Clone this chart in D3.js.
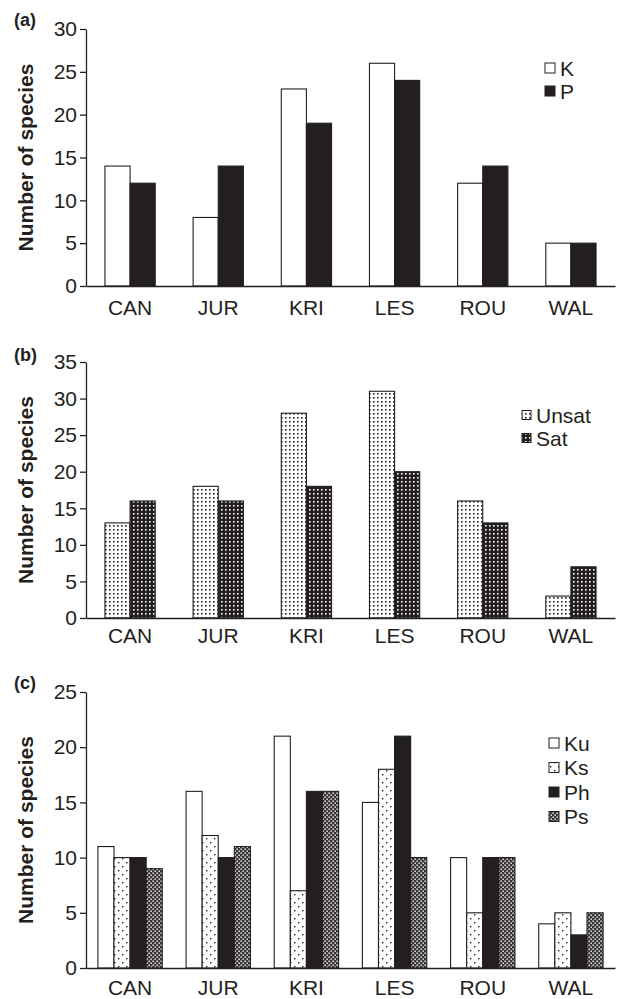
<!DOCTYPE html>
<html>
<head>
<meta charset="utf-8">
<script src="https://cdn.jsdelivr.net/npm/d3@7"></script>
<style>
  body { margin: 0; background: #fff; }
  svg text { font-family: "Liberation Sans", Arial, sans-serif; fill: #231f20; }
</style>
</head>
<body>
<div id="canvas"></div>
<script>
// sites along the x axis
var sites = ["CAN", "JUR", "KRI", "LES", "ROU", "WAL"];

// (a) K / P
var seriesA = ["K", "P"];
var valK = [14, 8, 23, 26, 12, 5];
var valP = [12, 14, 19, 24, 14, 5];

// (b) Unsat / Sat
var seriesB = ["Unsat", "Sat"];
var valUnsat = [13, 18, 28, 31, 16, 3];
var valSat = [16, 16, 18, 20, 13, 7];

// (c) Ku / Ks / Ph / Ps
var seriesC = ["Ku", "Ks", "Ph", "Ps"];
var valKu = [11, 16, 21, 15, 10, 4];
var valKs = [10, 12, 7, 18, 5, 5];
var valPh = [10, 10, 16, 21, 10, 3];
var valPs = [9, 11, 16, 10, 10, 5];

var ink = "#231f20";

var svg = d3.select("#canvas").append("svg")
  .attr("width", 617)
  .attr("height", 999);

// fill patterns
var defs = svg.append("defs");

function pat(id, w, h, bg, fg, dots, r) {
  var p = defs.append("pattern")
    .attr("id", id)
    .attr("patternUnits", "userSpaceOnUse")
    .attr("width", w).attr("height", h);
  p.append("rect").attr("width", w).attr("height", h).attr("fill", bg);
  dots.forEach(function(d) {
    p.append("rect")
      .attr("x", d[0]).attr("y", d[1])
      .attr("width", r).attr("height", r)
      .attr("fill", fg);
  });
}
pat("unsat", 4, 4, "#fff", ink, [[1, 1]], 1.6);
pat("sat", 4, 4, ink, "#fff", [[1, 1]], 1.6);
pat("ks", 8, 8, "#fff", ink, [[2, 2], [6, 6]], 1.4);
pat("ps", 4, 4, "#3a3637", "#fff", [[0.5, 0.5], [2.5, 2.5]], 1.4);

var fills = {
  K: "#fff", P: ink,
  Unsat: "url(#unsat)", Sat: "url(#sat)",
  Ku: "#fff", Ks: "url(#ks)", Ph: ink, Ps: "url(#ps)"
};

var x = d3.scaleBand().domain(sites).range([86, 615]);

function panel(cfg) {
  var y = d3.scaleLinear().domain([0, cfg.max]).range([cfg.y0, cfg.yTop]);
  var g = svg.append("g");

  var xs = d3.scaleBand().domain(cfg.keys)
    .range([0, x.step() * cfg.groupFrac]);
  var off = (x.step() - xs.range()[1]) / 2;

  // bars
  cfg.keys.forEach(function(k, i) {
    g.selectAll(".bar-" + k)
      .data(cfg.values[i])
      .enter().append("rect")
      .attr("x", function(d, j) { return x(sites[j]) + off + xs(k); })
      .attr("y", function(d) { return y(d); })
      .attr("width", xs.bandwidth())
      .attr("height", function(d) { return y(0) - y(d); })
      .attr("fill", fills[k])
      .attr("stroke", ink)
      .attr("stroke-width", 1.1);
  });

  // y axis
  var ya = g.append("g")
    .attr("transform", "translate(86,0)")
    .call(d3.axisLeft(y).ticks(cfg.max / 5).tickSize(6).tickSizeOuter(0).tickPadding(3));
  ya.selectAll("path, line").attr("stroke", ink).attr("stroke-width", 1.3);
  ya.selectAll("text").attr("font-size", 21).attr("fill", ink)
    .style("font-family", "Liberation Sans, Arial, sans-serif");

  // x axis
  var xa = g.append("g")
    .attr("transform", "translate(0," + cfg.y0 + ")")
    .call(d3.axisBottom(x).tickSize(0).tickSizeOuter(0).tickPadding(cfg.labelPad));
  xa.selectAll("path").attr("stroke", ink).attr("stroke-width", 1.6);
  xa.selectAll("text").attr("font-size", 21).attr("fill", ink)
    .style("font-family", "Liberation Sans, Arial, sans-serif");

  // y title
  g.append("text")
    .attr("transform", "translate(" + 33 + "," + ((cfg.y0 + cfg.yTop) / 2) + ") rotate(-90)")
    .attr("text-anchor", "middle")
    .attr("font-size", 21)
    .attr("font-weight", "bold")
    .text("Number of species");

  // panel letter
  g.append("text")
    .attr("x", 14)
    .attr("y", cfg.letterY)
    .attr("dy", "0.36em")
    .attr("font-size", 18)
    .attr("font-weight", "bold")
    .text(cfg.letter);

  // legend
  var lg = g.append("g");
  cfg.keys.forEach(function(k, i) {
    var ly = cfg.legY + i * cfg.legStep;
    lg.append("rect")
      .attr("x", cfg.legX).attr("y", ly - cfg.legBox / 2)
      .attr("width", cfg.legBox).attr("height", cfg.legBox)
      .attr("fill", fills[k])
      .attr("stroke", ink).attr("stroke-width", 1);
    lg.append("text")
      .attr("x", cfg.legX + cfg.legBox + 5)
      .attr("y", ly)
      .attr("dy", "0.36em")
      .attr("font-size", 21)
      .text(k);
  });
}

panel({ letter: "(a)", keys: seriesA, values: [valK, valP], max: 30,
  yTop: 29, y0: 286, groupFrac: 0.57, labelPad: 14, letterY: 20,
  legX: 545, legY: 68, legStep: 23, legBox: 10 });

panel({ letter: "(b)", keys: seriesB, values: [valUnsat, valSat], max: 35,
  yTop: 362, y0: 618, groupFrac: 0.57, labelPad: 10, letterY: 355,
  legX: 522, legY: 415, legStep: 23, legBox: 9 });

panel({ letter: "(c)", keys: seriesC, values: [valKu, valKs, valPh, valPs], max: 25,
  yTop: 692, y0: 968, groupFrac: 0.73, labelPad: 12, letterY: 683,
  legX: 549, legY: 743, legStep: 24.5, legBox: 10 });
</script>
</body>
</html>
